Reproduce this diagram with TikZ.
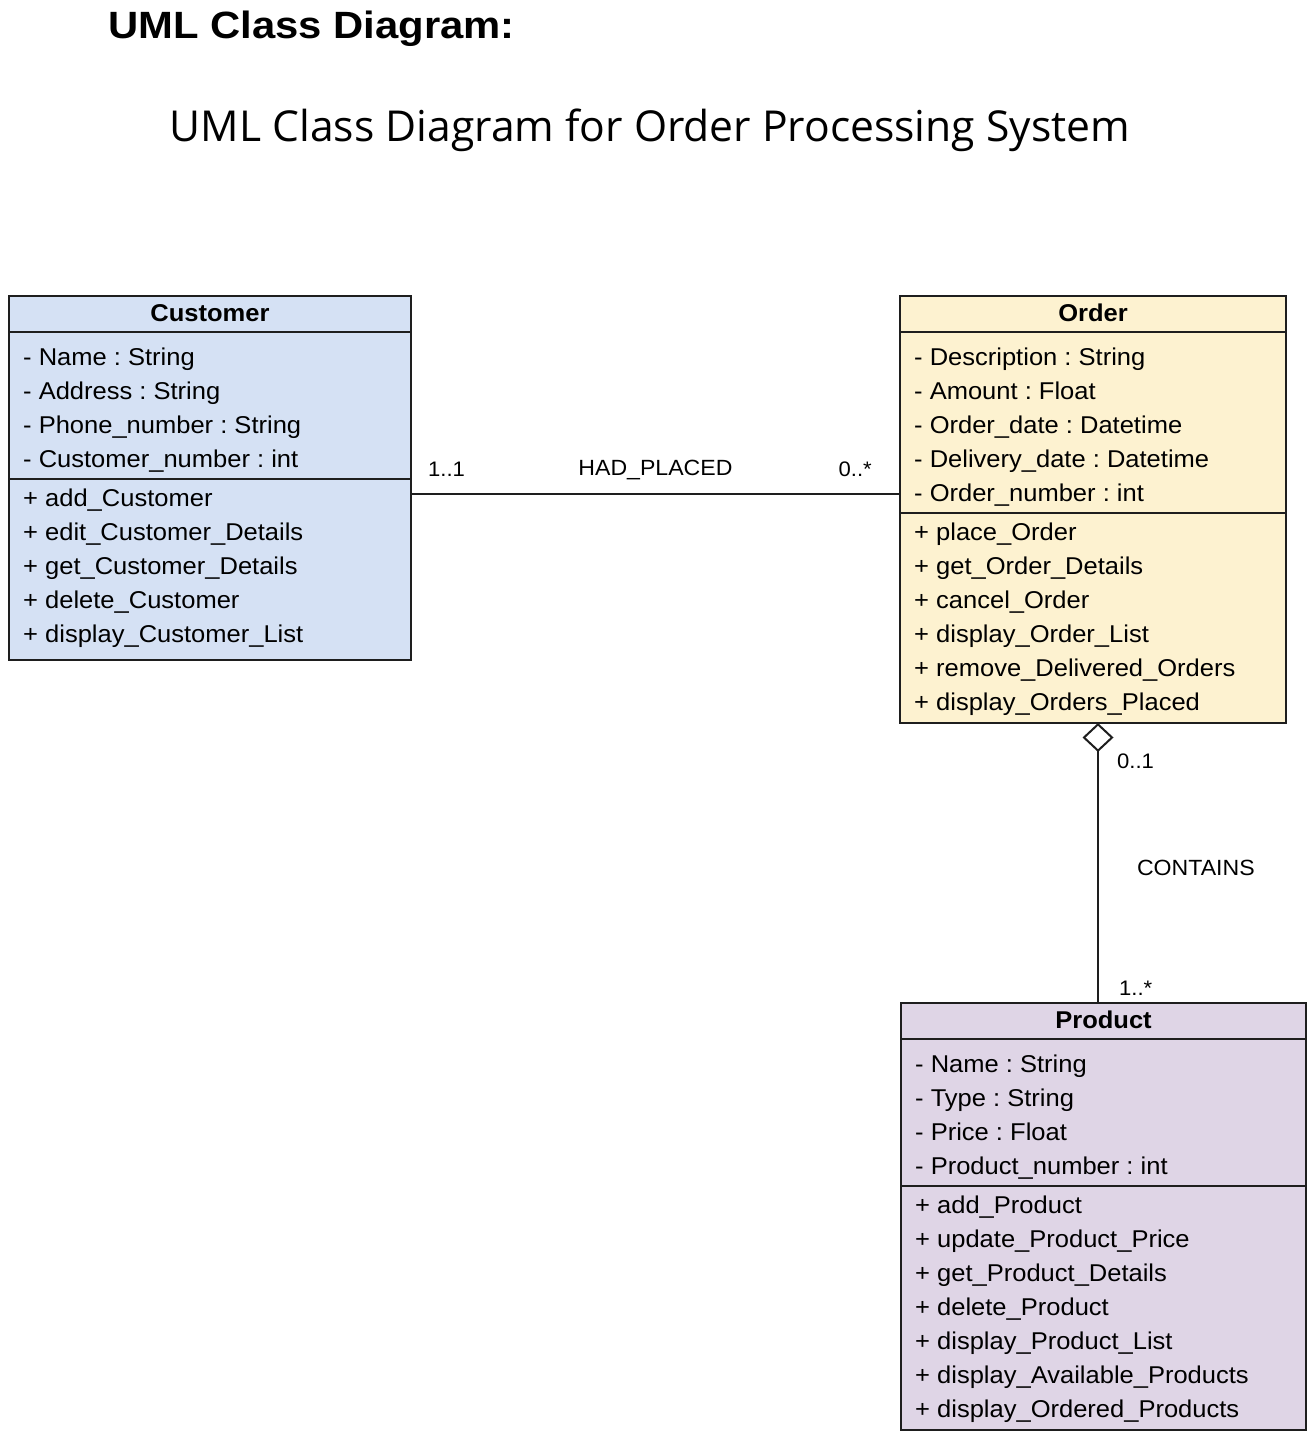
\documentclass[tikz,border=0pt]{standalone}
\usepackage{fontspec}
\setmainfont{Liberation Sans}[FakeStretch=1.05]
\newfontfamily\headfont{Liberation Sans}[FakeStretch=1.1]
\newfontfamily\subfont{Open Sans}
\usetikzlibrary{positioning,calc,arrows.meta}
\definecolor{custblue}{HTML}{D5E1F4}
\definecolor{ordyellow}{HTML}{FDF2D0}
\definecolor{prodpurple}{HTML}{DFD5E6}
\definecolor{edge}{HTML}{1E1E1E}
\frenchspacing

\begin{document}
\begin{tikzpicture}[x=1pt, y=-1pt, node distance=0pt]
	\tikzstyle{box} = [rectangle, draw=edge, line width=2pt, outer sep=0pt, inner sep=0pt]
	\tikzstyle{head} = [box, minimum height=36pt, font=\bfseries\fontsize{24.3}{29}\selectfont, text height=18pt, text depth=4pt]
	\tikzstyle{member} = [anchor=base west, inner sep=0pt, font=\fontsize{24.3}{29}\selectfont]
	\tikzstyle{mult} = [inner sep=0pt, font=\fontsize{21}{25}\selectfont]
	\tikzstyle{lbl} = [inner sep=0pt, font=\fontsize{22}{26}\selectfont]
	\tikzstyle{link} = [draw=edge, line width=2pt]

	\path[use as bounding box, fill=white] (0,0) rectangle (1316,1442);

	% Titles
	\node[anchor=base west, inner sep=0pt, font=\headfont\bfseries\fontsize{38}{44}\selectfont] (title) at (108,39) {UML Class Diagram:};
	\node[anchor=base, inner sep=0pt, font=\subfont\fontsize{42.6}{50}\selectfont] (subtitle) at (650,142) {UML Class Diagram for Order Processing System};

	% Customer class
	\node[head, fill=custblue, minimum width=402pt, anchor=north west] (custhead) at (9,296) {Customer};
	\node[box, fill=custblue, minimum width=402pt, minimum height=147pt, below=of custhead] (custattr) {};
	\node[box, fill=custblue, minimum width=402pt, minimum height=181pt, below=of custattr] (custmeth) {};
	\foreach \m [count=\i] in {- Name : String, - Address : String, - Phone\_number : String, - Customer\_number : int}
		\node[member] (ca\i) at ($(custattr.north west)+(14,{33+34*(\i-1)})$) {\m};
	\foreach \m [count=\i] in {+ add\_Customer, + edit\_Customer\_Details, + get\_Customer\_Details, + delete\_Customer, + display\_Customer\_List}
		\node[member] (cm\i) at ($(custmeth.north west)+(14,{27+34*(\i-1)})$) {\m};

	% Order class
	\node[head, fill=ordyellow, minimum width=386pt, anchor=north west] (ordhead) at (900,296) {Order};
	\node[box, fill=ordyellow, minimum width=386pt, minimum height=181pt, below=of ordhead] (ordattr) {};
	\node[box, fill=ordyellow, minimum width=386pt, minimum height=210pt, below=of ordattr] (ordmeth) {};
	\foreach \m [count=\i] in {- Description : String, - Amount : Float, - Order\_date : Datetime, - Delivery\_date : Datetime, - Order\_number : int}
		\node[member] (oa\i) at ($(ordattr.north west)+(14,{33+34*(\i-1)})$) {\m};
	\foreach \m [count=\i] in {+ place\_Order, + get\_Order\_Details, + cancel\_Order, + display\_Order\_List, + remove\_Delivered\_Orders, + display\_Orders\_Placed}
		\node[member] (om\i) at ($(ordmeth.north west)+(14,{27+34*(\i-1)})$) {\m};

	% Product class
	\node[head, fill=prodpurple, minimum width=405pt, anchor=north west] (prodhead) at (901,1003) {Product};
	\node[box, fill=prodpurple, minimum width=405pt, minimum height=147pt, below=of prodhead] (prodattr) {};
	\node[box, fill=prodpurple, minimum width=405pt, minimum height=244pt, below=of prodattr] (prodmeth) {};
	\foreach \m [count=\i] in {- Name : String, - Type : String, - Price : Float, - Product\_number : int}
		\node[member] (pa\i) at ($(prodattr.north west)+(14,{33+34*(\i-1)})$) {\m};
	\foreach \m [count=\i] in {+ add\_Product, + update\_Product\_Price, + get\_Product\_Details, + delete\_Product, + display\_Product\_List, + display\_Available\_Products, + display\_Ordered\_Products}
		\node[member] (pm\i) at ($(prodmeth.north west)+(14,{27+34*(\i-1)})$) {\m};

	% Association Customer -- Order
	\draw[link] ($(custmeth.north east)+(0,15)$) coordinate (hp) -- (hp -| ordattr.west)
		node[lbl, midway, anchor=base, yshift=19pt] (hadplaced) {HAD\_PLACED};
	\node[mult, anchor=base west] (m11) at ($(hp)+(17,-18)$) {1..1};
	\node[mult, anchor=base east] (m0n) at ($(hp -| ordattr.west)+(-28,-18)$) {0..*};

	% Aggregation Order <>-- Product
	\draw[link, -{Diamond[open, length=29pt, width=31pt]}] ($(prodhead.north west)+(197,0)$) coordinate (ct) -- (ct |- ordmeth.south)
		node[lbl, midway, anchor=west, xshift=38pt, yshift=-5pt] (contains) {CONTAINS};
	\node[mult, anchor=base west] (m01) at ($(ct |- ordmeth.south)+(19,45)$) {0..1};
	\node[mult, anchor=base west] (m1n) at ($(ct)+(21,-8)$) {1..*};

\end{tikzpicture}
\end{document}
